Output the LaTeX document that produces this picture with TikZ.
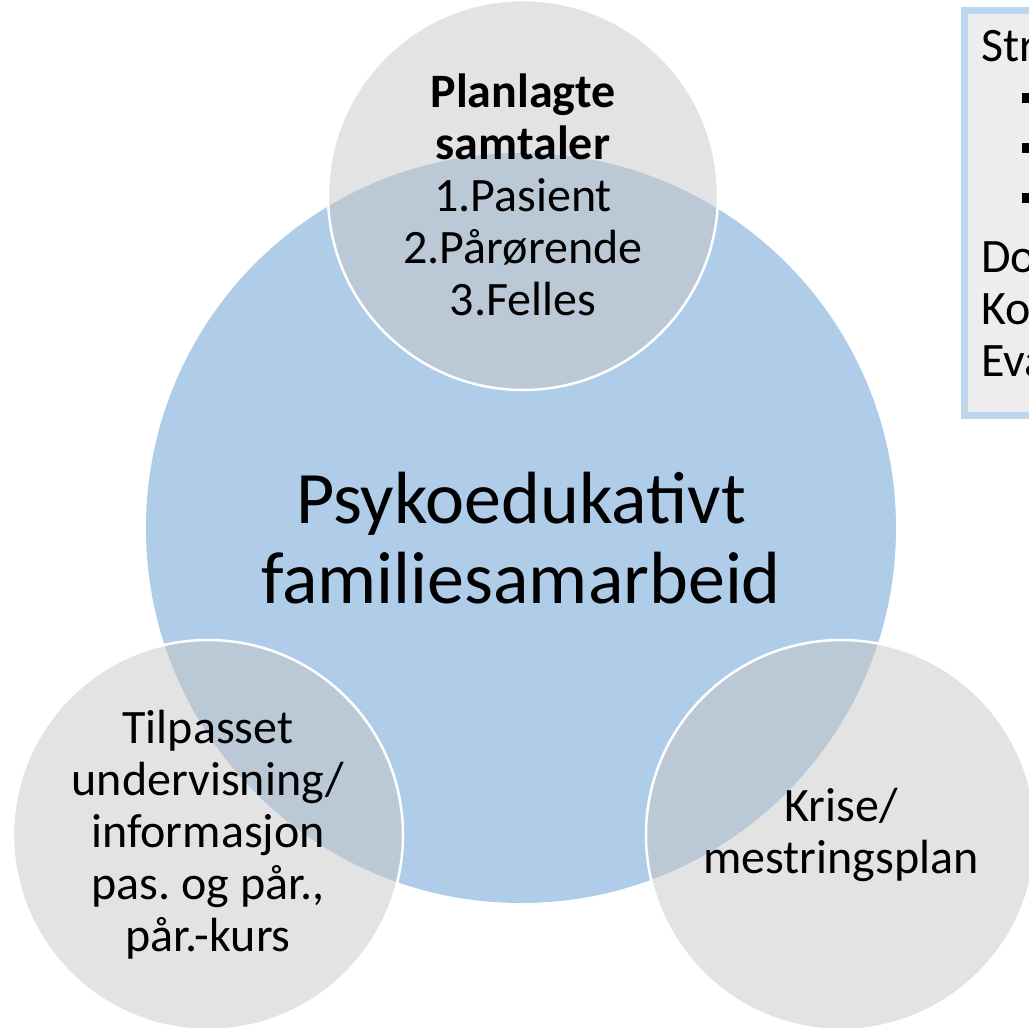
\documentclass[tikz,border=0pt]{standalone}
\usepackage{fontspec}
\setmainfont{Carlito}
\frenchspacing
\definecolor{bigblue}{RGB}{175,204,233}
\definecolor{smallgray}{RGB}{199,199,199}
\definecolor{boxfill}{RGB}{237,237,237}
\definecolor{boxline}{RGB}{189,215,238}
\tikzset{
  bigcircle/.style={circle, fill=bigblue, inner sep=0pt, minimum size=750pt},
  bigtextstyle/.style={inner sep=0pt, align=center, font=\fontsize{74}{80}\selectfont},
  smallcircle/.style={circle, fill=smallgray, fill opacity=0.5, text opacity=1, draw=white, line width=2.5pt,
     inner sep=0pt, minimum size=390pt, align=center, font=\fontsize{48}{52}\selectfont},
  boxtext/.style={anchor=base west, inner sep=0pt, font=\fontsize{48}{52}\selectfont},
  bulletsq/.style={fill=black, inner sep=0pt, minimum size=10.5pt}
}
\begin{document}
\begin{tikzpicture}[x=1pt,y=-1pt]
\useasboundingbox (0,0) rectangle (1029,1028);
\clip (0,0) rectangle (1029,1028);
\node[bigcircle] (big) at (521,528) {};
\node[bigtextstyle] (bigtext) at (521,538) {Psykoedukativt\\familiesamarbeid};
\node[smallcircle] (top) at (523,195) {\textbf{Planlagte}\\\textbf{samtaler}\\1.Pasient\\2.Pårørende\\3.Felles};
\node[smallcircle] (left) at (208,835) {Tilpasset\\undervisning/\\informasjon\\pas. og pår.,\\pår.-kurs};
\node[smallcircle] (right) at (841,835) {Krise/\\mestringsplan};
\node[draw=boxline, fill=boxfill, line width=7pt, inner sep=0pt, minimum width=100pt, minimum height=404.5pt, anchor=north west] (box) at (960.5,7) {};
\node[boxtext] (t1) at (981,61) {Str};
\node[bulletsq] (b1) at (1027,98) {};
\node[bulletsq] (b2) at (1027,148) {};
\node[bulletsq] (b3) at (1027,198) {};
\node[boxtext] (t2) at (981,272) {Do};
\node[boxtext] (t3) at (981,324) {Ko};
\node[boxtext] (t4) at (981,376) {Eva};
\end{tikzpicture}
\end{document}
